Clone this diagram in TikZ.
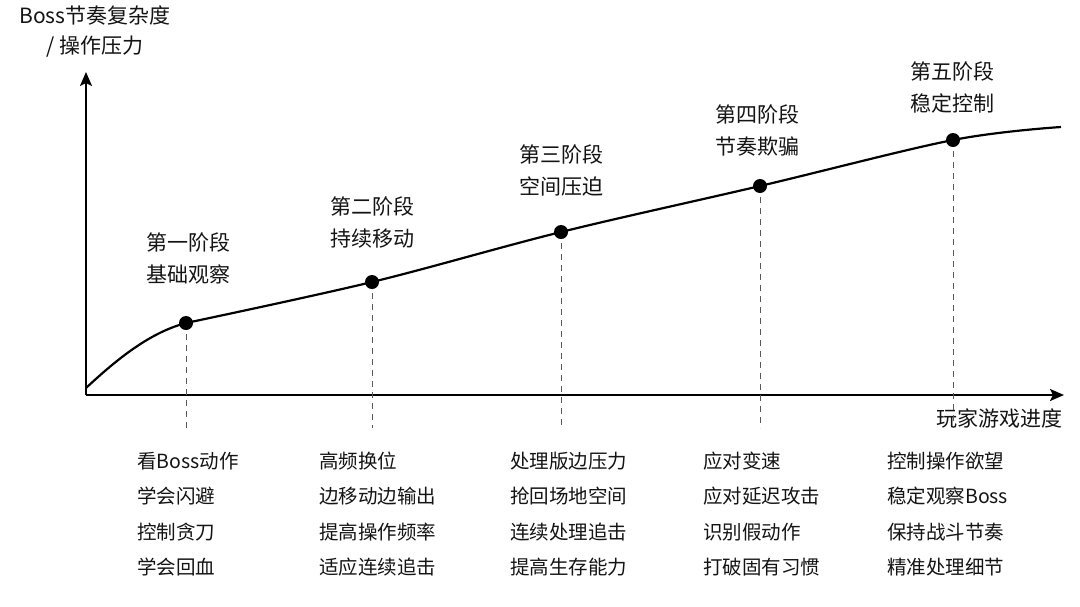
\documentclass[tikz,border=0pt]{standalone}
\usepackage{fontspec}
\setmainfont{Noto Sans CJK SC}
\usetikzlibrary{arrows.meta}
\begin{document}
\begin{tikzpicture}[x=1pt,y=-1pt,
  axisline/.style={line width=2.2pt,-{Stealth[length=14pt,width=12pt,inset=3pt]}},
  curveline/.style={line width=2.2pt},
  dot/.style={circle,fill=black,inner sep=0pt,minimum size=14pt},
  guide/.style={black!65,line width=1pt,dash pattern=on 6pt off 5pt},
  stage/.style={align=center,inner sep=0pt,font=\fontsize{21}{32}\selectfont,text=black!92},
  item/.style={anchor=west,inner sep=0pt,font=\fontsize{19.5}{24}\selectfont,text=black!92},
  axlabel/.style={inner sep=0pt,font=\fontsize{21}{30}\selectfont,text=black!92}]
\useasboundingbox[fill=white] (0,0) rectangle (1080,606);
% axes
\coordinate (O) at (86,395);
\coordinate (Ytip) at (86,72);
\coordinate (Xtip) at (1064,395);
\draw[axisline] (O) -- (Ytip);
\draw[axisline] (O) -- (Xtip);
\node[axlabel,align=center] (ylab) at (95,32) {Boss节奏复杂度\\/ 操作压力};
\node[axlabel,anchor=east] (xlab) at (1063,418) {玩家游戏进度};
% curve points
\coordinate (c0) at (86,388);
\coordinate (p1) at (186,323);
\coordinate (p2) at (372,282);
\coordinate (p3) at (561,232);
\coordinate (p4) at (760,186);
\coordinate (p5) at (953,140);
\coordinate (cend) at (1061,127);
% guides
\foreach \i/\x in {1/186,2/372,3/561,4/760,5/953}{
  \coordinate (g\i) at (\x,428);
  \draw[guide] (p\i) -- (g\i);
}
\draw[curveline] (c0) .. controls (114,362) and (148,333) .. (p1);
\draw[curveline] plot[smooth,tension=0.55] coordinates {(p1) (p2) (p3) (p4) (p5) (cend)};
\foreach \i in {1,...,5}{\node[dot] (d\i) at (p\i) {};}
% stage labels
\node[stage] (s1) at (188,258) {第一阶段\\基础观察};
\node[stage] (s2) at (372,222) {第二阶段\\持续移动};
\node[stage] (s3) at (561,170) {第三阶段\\空间压迫};
\node[stage] (s4) at (757,130) {第四阶段\\节奏欺骗};
\node[stage] (s5) at (952,87) {第五阶段\\稳定控制};
% items
\node[item] (a1) at (137,461) {看Boss动作};
\node[item] (a2) at (137,496) {学会闪避};
\node[item] (a3) at (137,532) {控制贪刀};
\node[item] (a4) at (137,567) {学会回血};
\node[item] (b1) at (319,461) {高频换位};
\node[item] (b2) at (319,496) {边移动边输出};
\node[item] (b3) at (319,532) {提高操作频率};
\node[item] (b4) at (319,567) {适应连续追击};
\node[item] (c1t) at (510,461) {处理版边压力};
\node[item] (c2t) at (510,496) {抢回场地空间};
\node[item] (c3t) at (510,532) {连续处理追击};
\node[item] (c4t) at (510,567) {提高生存能力};
\node[item] (e1) at (703,461) {应对变速};
\node[item] (e2) at (703,496) {应对延迟攻击};
\node[item] (e3) at (703,532) {识别假动作};
\node[item] (e4) at (703,567) {打破固有习惯};
\node[item] (f1) at (887,461) {控制操作欲望};
\node[item] (f2) at (887,496) {稳定观察Boss};
\node[item] (f3) at (887,532) {保持战斗节奏};
\node[item] (f4) at (887,567) {精准处理细节};
\end{tikzpicture}
\end{document}
